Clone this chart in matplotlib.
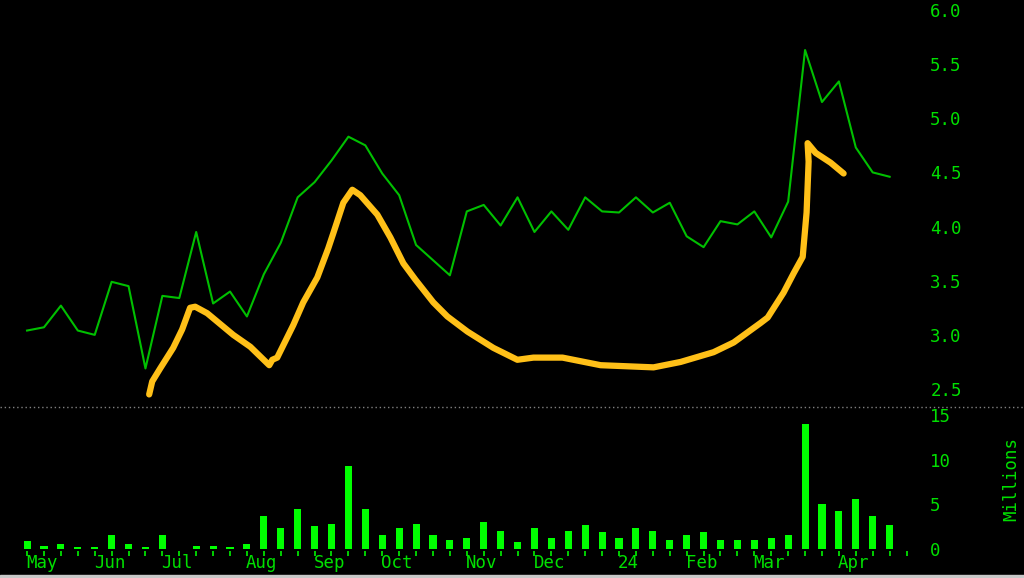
import numpy as np
import matplotlib.pyplot as plt
from matplotlib.patches import Rectangle
from matplotlib.lines import Line2D

# weekly closing price (May 2023 - Apr 2024)
price = [3.04, 3.07, 3.27, 3.04, 3.00, 3.49, 3.45, 2.69, 3.36, 3.34,
         3.95, 3.29, 3.40, 3.17, 3.56, 3.85, 4.27, 4.41, 4.61, 4.83,
         4.75, 4.49, 4.29, 3.83, 3.69, 3.55, 4.14, 4.20, 4.01, 4.27,
         3.95, 4.14, 3.97, 4.27, 4.14, 4.13, 4.27, 4.13, 4.22, 3.91,
         3.81, 4.05, 4.02, 4.14, 3.90, 4.23, 5.63, 5.15, 5.34, 4.73,
         4.50, 4.46]

# weekly volume, millions
volume = [0.8, 0.3, 0.5, 0.15, 0.15, 1.5, 0.5, 0.15, 1.5, 0.0,
          0.3, 0.3, 0.15, 0.5, 3.6, 2.3, 4.4, 2.5, 2.8, 9.3,
          4.4, 1.5, 2.3, 2.8, 1.5, 1.0, 1.2, 3.0, 2.0, 0.7,
          2.3, 1.2, 2.0, 2.6, 1.8, 1.2, 2.3, 2.0, 1.0, 1.5,
          1.8, 1.0, 0.9, 1.0, 1.2, 1.5, 14.0, 5.0, 4.2, 5.6,
          3.6, 2.6]

# hand drawn yellow curve (week position, price)
curve_x = [7.22, 7.40, 7.87, 8.64, 9.17, 9.64, 9.94, 10.65, 12.19, 13.20,
           14.32, 14.50, 14.79, 15.74, 16.33, 17.16, 17.81, 18.11, 18.70, 19.23,
           19.70, 20.71, 21.48, 22.25, 22.96, 24.02, 24.85, 26.04, 27.57, 28.99,
           29.94, 31.66, 33.91, 37.04, 38.64, 40.59, 41.78, 43.37, 43.79, 44.73,
           45.33, 45.86, 46.09, 46.21, 46.15, 46.63, 47.51, 48.28]
curve_y = [2.45, 2.57, 2.69, 2.88, 3.05, 3.25, 3.26, 3.20, 3.00, 2.89,
           2.72, 2.77, 2.79, 3.09, 3.30, 3.53, 3.80, 3.94, 4.22, 4.34,
           4.29, 4.11, 3.90, 3.66, 3.51, 3.30, 3.17, 3.03, 2.88, 2.77,
           2.79, 2.79, 2.72, 2.70, 2.75, 2.84, 2.93, 3.11, 3.16, 3.39,
           3.57, 3.72, 4.13, 4.60, 4.77, 4.68, 4.59, 4.49]

month_labels = ["May", "Jun", "Jul", "Aug", "Sep", "Oct", "Nov", "Dec",
                "24", "Feb", "Mar", "Apr"]
month_weeks = [0, 4, 8, 13, 17, 21, 26, 30, 35, 39, 43, 48]
price_ticks = [2.5, 3.0, 3.5, 4.0, 4.5, 5.0, 5.5, 6.0]
volume_ticks = [0, 5, 10, 15]

green_txt = "#00E000"
mono = "DejaVu Sans Mono"
weeks = np.arange(len(price))

fig = plt.figure(figsize=(10.24, 5.78), dpi=100, facecolor="black")
ax = fig.add_axes([0, 1 - 407 / 578, 915 / 1024, 407 / 578])
axv = fig.add_axes([0, 1 - 551 / 578, 915 / 1024, 144 / 578])

for a in (ax, axv):
    a.set_facecolor("black")
    for s in a.spines.values():
        s.set_visible(False)
    a.set_xlim(-1.6, 52.5)
    a.yaxis.tick_right()

# price panel
ax.plot(weeks, price, color="#00C000", lw=1.5)
ax.plot(curve_x, curve_y, color="#FFC018", lw=4.5,
        solid_capstyle="round", solid_joinstyle="round")
ax.set_ylim(2.334, 6.092)
ax.set_yticks(price_ticks)
ax.set_yticklabels([f"{t:.1f}" for t in price_ticks],
                   fontfamily=mono, fontsize=12.5, color=green_txt)
ax.tick_params(axis="y", length=0, pad=11)
ax.set_xticks([])

# volume panel
axv.bar(weeks, volume, width=0.42, color="#00FF00")
axv.set_ylim(-0.28, 15.9)
axv.set_yticks(volume_ticks)
axv.set_yticklabels([str(t) for t in volume_ticks],
                    fontfamily=mono, fontsize=12.5, color=green_txt)
axv.tick_params(axis="y", length=0, pad=11)
axv.set_xticks(np.arange(len(price) + 1))
axv.set_xticklabels([])
axv.tick_params(axis="x", length=3.5, width=1.3, color="#00E000",
                direction="out", pad=2)
for lab, w in zip(month_labels, month_weeks):
    axv.text(w - 0.05, -0.085, lab, transform=axv.get_xaxis_transform(),
             ha="left", va="center", fontfamily=mono, fontsize=12.5,
             color=green_txt)
axv.text(1.105, 0.5, "Millions", transform=axv.transAxes, rotation=90,
         ha="center", va="center", fontfamily=mono, fontsize=12.5,
         color=green_txt)

# dotted separator and bottom strip
fig.add_artist(Line2D([0, 1], [1 - 407 / 578] * 2, transform=fig.transFigure,
                      color="#808080", lw=1, ls=(0, (1, 2))))
fig.add_artist(Rectangle((0, 0), 1, 3 / 578, transform=fig.transFigure,
                         color="#C8C8C8"))

fig.savefig("out.png", dpi=100, facecolor="black")
